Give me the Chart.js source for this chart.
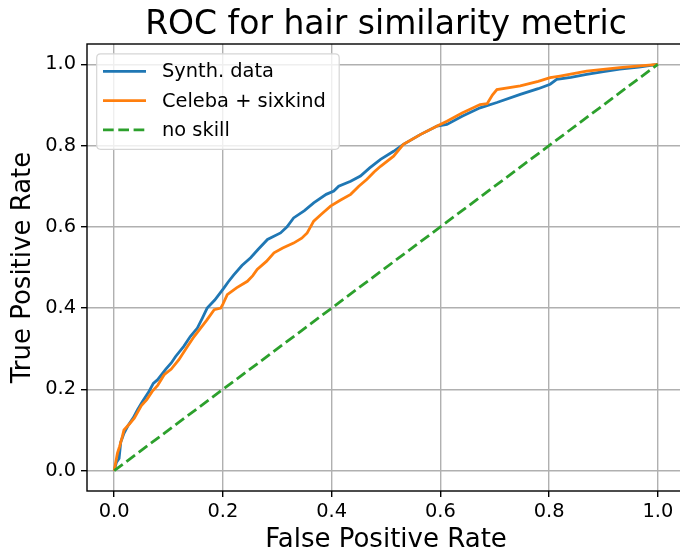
<!DOCTYPE html>
<html>
<head>
<meta charset="utf-8">
<script src="https://cdn.jsdelivr.net/npm/chart.js@4/dist/chart.umd.min.js"></script>
<style>
html,body{margin:0;padding:0;background:#fff;overflow:hidden;}
#wrap{width:700px;height:556px;position:relative;}
</style>
</head>
<body>
<div id="wrap"><canvas id="c" width="700" height="556"></canvas></div>
<script>
const titleText = "ROC for hair similarity metric";
const xLabel = "False Positive Rate";
const yLabel = "True Positive Rate";
const tickValues = [0.0, 0.2, 0.4, 0.6, 0.8, 1.0];
const seriesNames = ["Synth. data", "Celeba + sixkind", "no skill"];

const fprSynth = [0,0.004,0.009,0.012,0.018,0.025,0.035,0.043,0.052,0.064,0.072,0.080,0.095,0.105,0.113,0.128,0.140,0.153,0.162,0.171,0.185,0.202,0.210,0.220,0.235,0.251,0.265,0.282,0.306,0.318,0.330,0.350,0.367,0.390,0.404,0.413,0.435,0.453,0.470,0.490,0.514,0.532,0.563,0.594,0.612,0.640,0.673,0.704,0.747,0.780,0.802,0.814,0.840,0.869,0.900,0.930,0.965,1.0];
const tprSynth = [0,0.020,0.030,0.070,0.092,0.110,0.130,0.150,0.170,0.195,0.215,0.224,0.250,0.265,0.281,0.306,0.330,0.351,0.375,0.400,0.420,0.450,0.465,0.482,0.505,0.524,0.545,0.569,0.585,0.600,0.622,0.640,0.659,0.680,0.688,0.700,0.712,0.725,0.745,0.766,0.786,0.803,0.827,0.848,0.852,0.872,0.893,0.906,0.926,0.940,0.951,0.963,0.968,0.975,0.982,0.988,0.993,1.0];

const fprCeleba = [0,0.006,0.010,0.015,0.018,0.028,0.037,0.050,0.060,0.070,0.080,0.092,0.105,0.119,0.135,0.147,0.159,0.170,0.184,0.196,0.200,0.208,0.225,0.245,0.255,0.263,0.280,0.294,0.310,0.330,0.345,0.355,0.367,0.380,0.398,0.415,0.435,0.450,0.465,0.478,0.490,0.514,0.532,0.563,0.594,0.612,0.640,0.673,0.686,0.696,0.704,0.747,0.780,0.802,0.820,0.869,0.930,1.0];
const tprCeleba = [0,0.043,0.060,0.084,0.100,0.115,0.129,0.160,0.175,0.195,0.210,0.236,0.250,0.273,0.306,0.330,0.351,0.370,0.396,0.400,0.410,0.433,0.450,0.466,0.480,0.495,0.515,0.536,0.548,0.560,0.572,0.585,0.614,0.630,0.651,0.665,0.680,0.700,0.717,0.735,0.749,0.774,0.803,0.827,0.848,0.860,0.880,0.901,0.903,0.925,0.938,0.947,0.958,0.967,0.971,0.983,0.992,1.0];

const fprNoSkill = [0, 1];
const tprNoSkill = [0, 1];

const colors = ["#1f77b4", "#ff7f0e", "#2ca02c"];
const FONT = "'DejaVu Sans', sans-serif";

function pts(xs, ys){ return xs.map((x,i)=>({x:x, y:ys[i]})); }

const framePlugin = {
  id: 'frameLegend',
  afterDatasetsDraw(chart){
    const ctx = chart.ctx, a = chart.chartArea;
    ctx.save();
    ctx.strokeStyle = '#000';
    ctx.lineWidth = 1.4;
    ctx.strokeRect(a.left, a.top, a.right - a.left, a.bottom - a.top);
    const lx = 96.7, ly = 53.8, lw = 242.5, lh = 95.5, r = 4;
    ctx.beginPath();
    ctx.moveTo(lx + r, ly);
    ctx.lineTo(lx + lw - r, ly);
    ctx.quadraticCurveTo(lx + lw, ly, lx + lw, ly + r);
    ctx.lineTo(lx + lw, ly + lh - r);
    ctx.quadraticCurveTo(lx + lw, ly + lh, lx + lw - r, ly + lh);
    ctx.lineTo(lx + r, ly + lh);
    ctx.quadraticCurveTo(lx, ly + lh, lx, ly + lh - r);
    ctx.lineTo(lx, ly + r);
    ctx.quadraticCurveTo(lx, ly, lx + r, ly);
    ctx.closePath();
    ctx.fillStyle = 'rgba(255,255,255,0.8)';
    ctx.fill();
    ctx.strokeStyle = '#d6d6d6';
    ctx.lineWidth = 1.2;
    ctx.stroke();
    const rows = [71.3, 100.6, 129.9];
    ctx.font = "19.4px " + FONT;
    ctx.textBaseline = 'middle';
    ctx.textAlign = 'left';
    chart.data.datasets.forEach((ds, i) => {
      const y = rows[i];
      ctx.beginPath();
      ctx.setLineDash(ds.borderDash || []);
      ctx.strokeStyle = ds.borderColor;
      ctx.lineWidth = ds.borderWidth;
      ctx.moveTo(103, y);
      ctx.lineTo(146, y);
      ctx.stroke();
      ctx.setLineDash([]);
      ctx.fillStyle = '#000';
      ctx.fillText(ds.label, 162, y + 1);
    });
    ctx.restore();
  }
};

const tickCb = v => Number(v).toFixed(1);
const setTicks = s => { s.ticks = tickValues.map(v => ({value: v})); };

new Chart(document.getElementById('c'), {
  type: 'scatter',
  data: {
    datasets: [
      {label: seriesNames[0], data: pts(fprSynth, tprSynth), showLine: true, borderColor: colors[0], backgroundColor: colors[0], borderWidth: 2.8, pointRadius: 0, tension: 0, order: 2},
      {label: seriesNames[1], data: pts(fprCeleba, tprCeleba), showLine: true, borderColor: colors[1], backgroundColor: colors[1], borderWidth: 2.8, pointRadius: 0, tension: 0, order: 1},
      {label: seriesNames[2], data: pts(fprNoSkill, tprNoSkill), showLine: true, borderColor: colors[2], backgroundColor: colors[2], borderWidth: 2.8, borderDash: [10.7, 4.6], pointRadius: 0, tension: 0, order: 0}
    ]
  },
  options: {
    responsive: false,
    animation: false,
    layout: {padding: {right: 15, top: 0, left: 0, bottom: 0}},
    plugins: {
      legend: {display: false},
      tooltip: {enabled: false},
      title: {
        display: true, text: titleText, color: '#000', fullSize: false,
        font: {family: FONT, size: 33, weight: 'normal', lineHeight: 1.1},
        padding: {top: 7, bottom: 0.7}
      }
    },
    scales: {
      x: {
        type: 'linear', min: -0.05, max: 1.05,
        afterBuildTicks: setTicks,
        afterFit: s => { s.height = 65; },
        grid: {color: '#b0b0b0', lineWidth: 1.4, tickColor: '#000', tickLength: 6, tickWidth: 1.4},
        border: {display: false},
        ticks: {callback: tickCb, color: '#000', font: {family: FONT, size: 19.4}, padding: 3, maxRotation: 0, autoSkip: false},
        title: {display: true, text: xLabel, color: '#000', font: {family: FONT, size: 26, lineHeight: 1.2}, padding: {top: 0, bottom: 0}}
      },
      y: {
        type: 'linear', min: -0.05, max: 1.05,
        afterBuildTicks: setTicks,
        afterFit: s => { s.width = 87; },
        grid: {color: '#b0b0b0', lineWidth: 1.4, tickColor: '#000', tickLength: 6, tickWidth: 1.4},
        border: {display: false},
        ticks: {callback: tickCb, color: '#000', font: {family: FONT, size: 19.4}, padding: 5, autoSkip: false},
        title: {display: true, text: yLabel, color: '#000', font: {family: FONT, size: 26, lineHeight: 1.2}, padding: {top: 8, bottom: 0}}
      }
    }
  },
  plugins: [framePlugin]
});
</script>
</body>
</html>
